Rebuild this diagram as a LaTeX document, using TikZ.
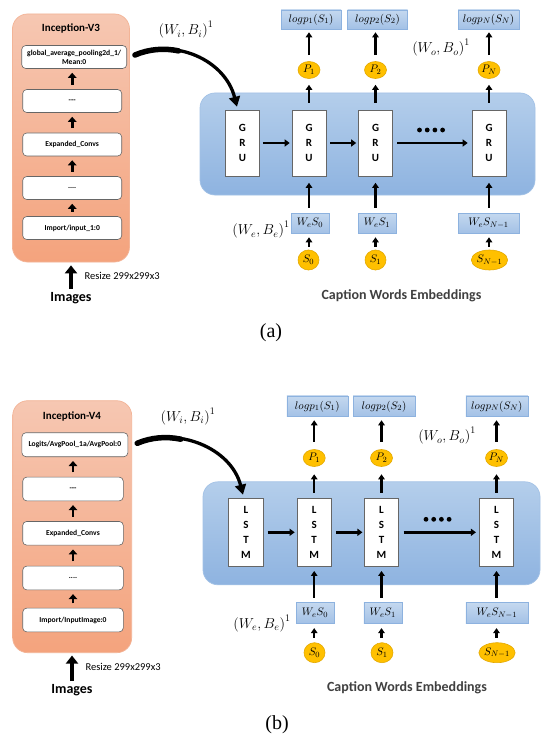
\documentclass[tikz,border=0pt]{standalone}
\usepackage{fontspec}
\newfontfamily\carl{Carlito}
\newfontfamily\tms{Liberation Serif}
\usetikzlibrary{arrows.meta,shapes.geometric,calc}

\definecolor{orTop}{HTML}{F6C7B2}
\definecolor{orBot}{HTML}{F4A37D}
\definecolor{orEdge}{HTML}{F3B497}
\definecolor{bgTop}{HTML}{B4CEEB}
\definecolor{bgBot}{HTML}{8EB3E0}
\definecolor{bgEdge}{HTML}{A3C2E6}
\definecolor{sbTop}{HTML}{C4D8EF}
\definecolor{sbBot}{HTML}{A3C1E6}
\definecolor{sbEdge}{HTML}{8DB2DF}
\definecolor{ylFill}{HTML}{FFC000}
\definecolor{ylEdge}{HTML}{E3A900}
\definecolor{capGray}{HTML}{404040}

\begin{document}
\begin{tikzpicture}[x=1pt,y=-1pt,
  orbox/.style={draw=orEdge, line width=0.7pt, rounded corners=15pt,
    top color=orTop, bottom color=orBot},
  cnntitle/.style={font=\carl\bfseries\fontsize{11}{13}\selectfont},
  layer/.style={draw=black!60, line width=0.6pt, fill=white, rounded corners=4pt,
    align=center, inner sep=1pt, minimum height=23,
    font=\carl\bfseries\fontsize{7.6}{9}\selectfont},
  rnnbox/.style={draw=bgEdge, line width=0.7pt, rounded corners=15pt,
    top color=bgTop, bottom color=bgBot},
  cell/.style={draw=black!60, line width=0.6pt, fill=white, align=center,
    inner sep=0pt, font=\carl\bfseries\fontsize{11}{15}\selectfont},
  outbox/.style={draw=sbEdge, line width=0.6pt, top color=sbTop, bottom color=sbBot,
    inner sep=0pt, font=\fontsize{11}{13}\selectfont},
  tok/.style={ellipse, draw=ylEdge, line width=0.6pt, fill=ylFill, inner sep=0pt,
    minimum height=17, minimum width=22, font=\fontsize{11}{13}\selectfont},
  wlabel/.style={font=\fontsize{14}{16}\selectfont},
  smallnote/.style={font=\carl\fontsize{10.5}{12}\selectfont, anchor=west},
  bigword/.style={font=\carl\bfseries\fontsize{14}{16}\selectfont, inner sep=0pt},
  capword/.style={font=\carl\bfseries\fontsize{14}{16}\selectfont, text=capGray},
  sublabel/.style={font=\tms\fontsize{20}{22}\selectfont},
  larrow/.style={line width=2.8pt, -{Triangle[width=8.5pt,length=5pt]}},
  bigarrow/.style={line width=4.5pt, -{Triangle[width=12pt,length=8pt]}},
  varrow/.style={line width=2.4pt, -{Triangle[width=6.5pt,length=5pt]}},
  harrow/.style={line width=2.6pt, -{Triangle[width=7pt,length=5pt]}},
  curvarrow/.style={line width=3.3pt, -{Triangle[width=11pt,length=10pt]}},
  curvtail/.style={line width=5.5pt, line cap=round},
]
\useasboundingbox (0,0) rectangle (541,738);
\fill[white] (0,0) rectangle (541,738);

%%%%%%%%%%%%%%%%%%%%%%%% (a) Inception-V3 + GRU %%%%%%%%%%%%%%%%%%%%%%%%
\node[orbox, minimum width=117, minimum height=248] (incA) at (71,138) {};
\node[cnntitle] (ttlA) at (71,29) {Inception-V3};
\node[layer, minimum width=105] (a1) at (74.2,57) {global\_average\_pooling2d\_1/\\Mean:0};
\node[layer, minimum width=99] (a2) at (72.2,101) {{-}{-}{-}};
\node[layer, minimum width=99] (a3) at (72.2,144.5) {Expanded\_Convs};
\node[layer, minimum width=99] (a4) at (72.2,188) {....};
\node[layer, minimum width=99] (a5) at (72.2,228) {Import/input\_1:0};
\foreach \lo/\hi in {a2/a1,a3/a2,a4/a3,a5/a4}
  \draw[larrow, shorten <=4.5pt, shorten >=4pt] (\lo.north) -- (\lo.north |- \hi.south);

\node[bigword] (imgA) at (71,298) {Images};
\draw[bigarrow, shorten <=3pt, shorten >=3pt] (imgA.north) -- (imgA.north |- incA.south);
\node[smallnote] (rszA) at (81,276) {Resize 299x299x3};

\node[rnnbox, minimum width=335, minimum height=102] (rnnA) at (367.5,144) {};
\node[cell, minimum width=34, minimum height=66] (ga1) at (242.5,143) {G\\R\\U};
\node[cell, minimum width=34, minimum height=66] (ga2) at (309,143) {G\\R\\U};
\node[cell, minimum width=34, minimum height=66] (ga3) at (375.5,143) {G\\R\\U};
\node[cell, minimum width=34, minimum height=66] (ga4) at (489,143) {G\\R\\U};
\draw[harrow, shorten <=3pt, shorten >=2pt] (ga1) -- (ga2);
\draw[harrow, shorten <=4pt, shorten >=2pt] (ga2) -- (ga3);
\draw[harrow, shorten <=4.5pt, shorten >=4pt] (ga3) -- (ga4);
\foreach \dx in {419.5,427.2,434.9,442.6}
  \fill (\dx,130) circle (2.4);

\node[tok] (pa1) at (309,70) {$P_1$};
\node[tok] (pa2) at (375.5,70) {$P_2$};
\node[tok] (pa3) at (489,70) {$P_N$};
\node[outbox, minimum width=60, minimum height=19] (la1) at (311,19.5) {$log p_1(S_1)$};
\node[outbox, minimum width=60, minimum height=19] (la2) at (377.5,19.5) {$log p_2(S_2)$};
\node[outbox, minimum width=61, minimum height=19] (la3) at (488.5,19.5) {$log p_N(S_N)$};
\foreach \g/\p/\l in {ga2/pa1/la1,ga3/pa2/la2,ga4/pa3/la3}{
  \draw[varrow, shorten <=7pt, shorten >=6pt] (\g.north) -- (\p.south -| \g);
  \draw[varrow, shorten <=6pt, shorten >=3pt] (\p.north -| \g) -- (\l.south -| \g);
}

\node[outbox, minimum width=38, minimum height=20] (wa1) at (310,223) {$W_e S_0$};
\node[outbox, minimum width=38, minimum height=20] (wa2) at (377,223) {$W_e S_1$};
\node[outbox, minimum width=61, minimum height=20] (wa3) at (488.5,223) {$W_e S_{N-1}$};
\node[tok, minimum width=21, minimum height=20] (sa1) at (308.5,260) {$S_0$};
\node[tok, minimum width=21, minimum height=20] (sa2) at (375.5,260) {$S_1$};
\node[tok, minimum width=34, minimum height=20] (sa3) at (489.5,260) {$S_{N-1}$};
\foreach \g/\w/\s in {ga2/wa1/sa1,ga3/wa2/sa2,ga4/wa3/sa3}{
  \draw[varrow, shorten <=5pt, shorten >=6.5pt] (\w.north -| \g) -- (\g.south);
  \draw[varrow, shorten <=3pt, shorten >=4pt] (\s.north -| \g) -- (\w.south -| \g);
}

\node[wlabel] (wia) at (186,30) {$\bigl(W_i,B_i\bigr)^1$};
\node[wlabel] (woa) at (441,48) {$\bigl(W_o,B_o\bigr)^1$};
\node[wlabel] (wea) at (261,230) {$\bigl(W_e,B_e\bigr)^1$};
\node[capword] (capA) at (401.5,296) {Caption Words Embeddings};
\node[sublabel] (subA) at (271,333) {(a)};

% curved feature arrow: thicker tail, then the full stroke with its head
\coordinate (ca0) at ($(a1.east)+(8,-2)$);
\draw[curvtail] (ca0) .. controls +(14,-6) and +(-14.4,-3) .. ++(43.6,-4.1);
\draw[curvarrow] (ca0) .. controls +(40,-17) and +(-12,-47) .. ($(ga1.north)+(-5.5,-3)$);

%%%%%%%%%%%%%%%%%%%%%%%% (b) Inception-V4 + LSTM %%%%%%%%%%%%%%%%%%%%%%%%
\node[orbox, minimum width=119, minimum height=252] (incB) at (72.2,526.7) {};
\node[cnntitle] (ttlB) at (72,416) {Inception-V4};
\node[layer, minimum width=106, minimum height=24] (b1) at (74.9,444.7) {Logits/AvgPool\_1a/AvgPool:0};
\node[layer, minimum width=100.6, minimum height=23.7] (b2) at (73,489) {{-}{-}{-}};
\node[layer, minimum width=100.6, minimum height=23.7] (b3) at (73,533.3) {Expanded\_Convs};
\node[layer, minimum width=100.6, minimum height=23.7] (b4) at (73,578) {....};
\node[layer, minimum width=100.6, minimum height=23.7] (b5) at (73,620) {Import/InputImage:0};
\foreach \lo/\hi in {b2/b1,b3/b2,b4/b3,b5/b4}
  \draw[larrow, shorten <=4.5pt, shorten >=4pt] (\lo.north) -- (\lo.north |- \hi.south);

\node[bigword] (imgB) at (72,690) {Images};
\draw[bigarrow, shorten <=3pt, shorten >=2.5pt] (imgB.north) -- (imgB.north |- incB.south);
\node[smallnote] (rszB) at (82,666.7) {Resize 299x299x3};

\node[rnnbox, minimum width=337, minimum height=103] (rnnB) at (371.5,533.3) {};
\node[cell, minimum width=34.5, minimum height=68.7] (gb1) at (246,532.3) {L\\S\\T\\M};
\node[cell, minimum width=34.5, minimum height=68.7] (gb2) at (314.2,532.3) {L\\S\\T\\M};
\node[cell, minimum width=34.5, minimum height=68.7] (gb3) at (381.5,532.3) {L\\S\\T\\M};
\node[cell, minimum width=34.5, minimum height=68.7] (gb4) at (496.5,532.3) {L\\S\\T\\M};
\draw[harrow, shorten <=4pt, shorten >=2pt] (gb1) -- (gb2);
\draw[harrow, shorten <=4.5pt, shorten >=1.5pt] (gb2) -- (gb3);
\draw[harrow, shorten <=4.5pt, shorten >=3pt] (gb3) -- (gb4);
\foreach \dx in {426,433.7,441.4,449.1}
  \fill (\dx,519.3) circle (2.4);

\node[tok] (pb1) at (314.2,458) {$P_1$};
\node[tok] (pb2) at (381.5,458) {$P_2$};
\node[tok] (pb3) at (496.5,458) {$P_N$};
\node[outbox, minimum width=61, minimum height=20.7] (lb1) at (317.3,406.3) {$log p_1(S_1)$};
\node[outbox, minimum width=62, minimum height=20.7] (lb2) at (384,406.3) {$log p_2(S_2)$};
\node[outbox, minimum width=62, minimum height=20.7] (lb3) at (496.8,406.3) {$log p_N(S_N)$};
\foreach \g/\p/\l in {gb2/pb1/lb1,gb3/pb2/lb2,gb4/pb3/lb3}{
  \draw[varrow, shorten <=5pt, shorten >=7.5pt] (\g.north) -- (\p.south -| \g);
  \draw[varrow, shorten <=7.5pt, shorten >=3.3pt] (\p.north -| \g) -- (\l.south -| \g);
}

\node[outbox, minimum width=38, minimum height=20.6] (wb1) at (315,613) {$W_e S_0$};
\node[outbox, minimum width=38, minimum height=20.6] (wb2) at (382.8,613) {$W_e S_1$};
\node[outbox, minimum width=62, minimum height=20.6] (wb3) at (496.8,613) {$W_e S_{N-1}$};
\node[tok, minimum width=21, minimum height=20] (sb1) at (314.5,652.7) {$S_0$};
\node[tok, minimum width=22, minimum height=20] (sb2) at (382,652.7) {$S_1$};
\node[tok, minimum width=33, minimum height=20] (sb3) at (497,652.7) {$S_{N-1}$};
\foreach \g/\w/\s in {gb2/wb1/sb1,gb3/wb2/sb2,gb4/wb3/sb3}{
  \draw[varrow, shorten <=4.7pt, shorten >=4pt] (\w.north -| \g) -- (\g.south);
  \draw[varrow, shorten <=4.5pt, shorten >=4.5pt] (\s.north -| \g) -- (\w.south -| \g);
}

\node[wlabel] (wib) at (188,416.7) {$\bigl(W_i,B_i\bigr)^1$};
\node[wlabel] (wob) at (447,436) {$\bigl(W_o,B_o\bigr)^1$};
\node[wlabel] (web) at (262,623.3) {$\bigl(W_e,B_e\bigr)^1$};
\node[capword] (capB) at (407,687.7) {Caption Words Embeddings};
\node[sublabel] (subB) at (277,725) {(b)};

% curved feature arrow: thicker tail, then the full stroke with its head
\coordinate (cb0) at ($(b1.east)+(9,-1.4)$);
\draw[curvtail] (cb0) .. controls +(14,-6) and +(-14.4,-3) .. ++(43.6,-4.1);
\draw[curvarrow] (cb0) .. controls +(40,-17) and +(-12,-47) .. ($(gb1.north)+(-3,-3)$);
\end{tikzpicture}
\end{document}
